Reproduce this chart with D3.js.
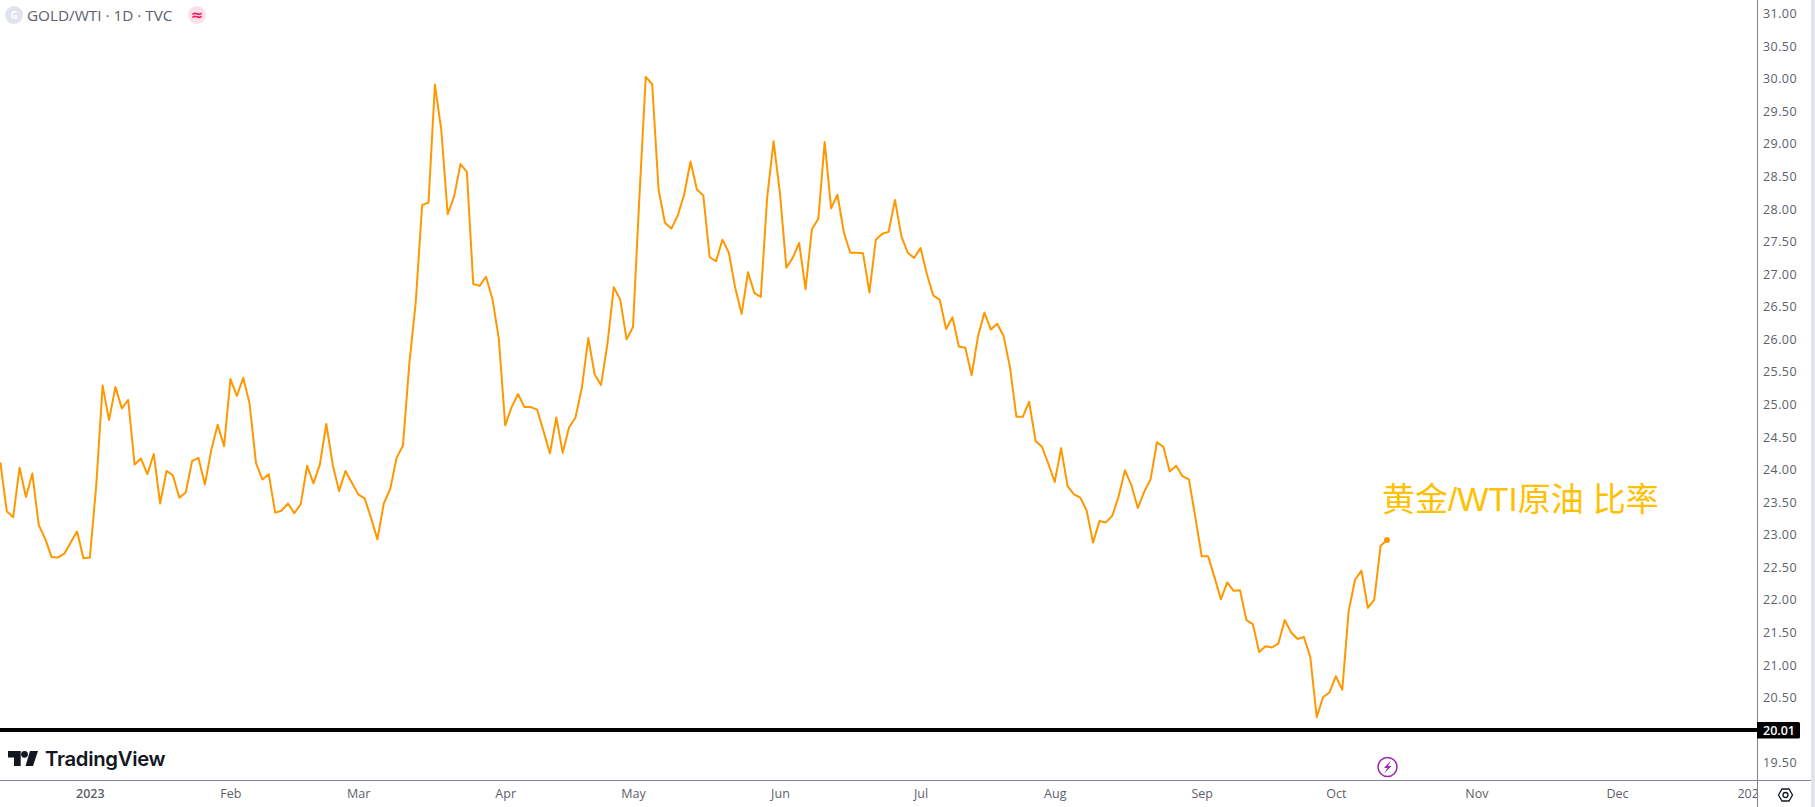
<!DOCTYPE html>
<html><head><meta charset="utf-8">
<script src="https://cdn.jsdelivr.net/npm/d3@7/dist/d3.min.js"></script>
<style>html,body{margin:0;padding:0;background:#fff;overflow:hidden}svg{display:block}
text{font-family:"Open Sans","Noto Sans",sans-serif}</style></head><body>
<svg id="c" width="1815" height="807"></svg>
<script>
const ratio = [24.11,23.36,23.27,24.03,23.58,23.94,23.15,22.94,22.66,22.65,22.71,22.88,23.05,22.64,22.65,23.76,25.29,24.76,25.27,24.94,
25.07,24.08,24.17,23.93,24.24,23.48,23.98,23.91,23.57,23.65,24.13,24.18,23.77,24.30,24.69,24.36,25.39,25.13,25.41,25.01,
24.10,23.85,23.93,23.34,23.37,23.48,23.33,23.47,24.06,23.79,24.08,24.70,24.08,23.67,23.98,23.80,23.62,23.56,23.26,22.93,
23.48,23.70,24.18,24.37,25.63,26.57,28.06,28.10,29.91,29.21,27.92,28.19,28.69,28.57,26.85,26.82,26.96,26.62,26.01,24.68,
24.96,25.16,24.96,24.96,24.92,24.59,24.25,24.80,24.26,24.65,24.80,25.26,26.02,25.46,25.30,25.93,26.80,26.61,26.00,26.19,
28.18,30.03,29.92,28.30,27.79,27.70,27.90,28.22,28.73,28.30,28.21,27.26,27.20,27.53,27.33,26.79,26.39,27.03,26.71,26.65,
28.18,29.04,28.24,27.10,27.25,27.48,26.77,27.69,27.85,29.03,28.01,28.22,27.64,27.33,27.33,27.32,26.72,27.53,27.62,27.65,
28.14,27.58,27.33,27.25,27.40,27.00,26.67,26.61,26.16,26.34,25.89,25.87,25.45,26.05,26.41,26.15,26.24,26.05,25.57,24.81,
24.81,25.04,24.44,24.35,24.09,23.81,24.33,23.75,23.62,23.57,23.37,22.88,23.21,23.19,23.29,23.59,23.99,23.76,23.41,23.66,
23.85,24.42,24.35,23.97,24.06,23.90,23.85,23.27,22.67,22.67,22.35,22.01,22.27,22.14,22.15,21.69,21.63,21.20,21.29,21.27,
21.33,21.69,21.50,21.40,21.43,21.12,20.20,20.51,20.58,20.83,20.62,21.83,22.31,22.45,21.88,22.00,22.83,22.92];
const monthLabels = ["2023","Feb","Mar","Apr","May","Jun","Jul","Aug","Sep","Oct","Nov","Dec","2024"];
const monthBars = [14,36,56,79,99,122,144,165,188,209,231,253,274];
const priceTicks = d3.range(19.5,31.01,0.5);
const lastPrice = 20.01;
const title = "GOLD/WTI · 1D · TVC";
const annotation = "黄金/WTI原油 比率";

const W=1815,H=807,paneR=1757,paneB=780.5,stripX=1811;
const svg=d3.select("#c");
const x=d3.scaleLinear().domain([0,217]).range([0.4,1387]);
const y=d3.scaleLinear().domain([31,19.5]).range([13.6,762.8]);
const tickFill="#5d606b";

svg.append("defs").append("clipPath").attr("id","pane").append("rect")
  .attr("x",0).attr("y",0).attr("width",paneR).attr("height",H);

const xg=svg.append("g").attr("clip-path","url(#pane)").append("g")
  .attr("transform",`translate(0,${paneB})`)
  .call(d3.axisBottom(x).tickValues(monthBars).tickSize(0).tickPadding(0)
    .tickFormat((d,i)=>monthLabels[i]));
xg.select(".domain").remove();
xg.selectAll("text").attr("y",9).attr("dy","0.71em").attr("fill",tickFill)
  .attr("font-size",12.5).attr("font-weight",d=>(d===14?600:400));

const yg=svg.append("g").attr("transform",`translate(${paneR},0)`)
  .call(d3.axisRight(y).tickValues(priceTicks).tickSize(0).tickPadding(0).tickFormat(d3.format(".2f")));
yg.select(".domain").remove();
yg.selectAll("text").attr("x",23).attr("text-anchor","middle").attr("fill",tickFill)
  .attr("font-size",12.5).attr("letter-spacing","0.4");

svg.append("line").attr("x1",0).attr("x2",stripX).attr("y1",paneB).attr("y2",paneB).attr("stroke","#83838f").attr("stroke-width",1);
svg.append("line").attr("x1",paneR+.5).attr("x2",paneR+.5).attr("y1",0).attr("y2",H).attr("stroke","#83838f").attr("stroke-width",1);
svg.append("rect").attr("x",stripX).attr("y",0).attr("width",W-stripX).attr("height",H).attr("fill","#e0e3eb");

svg.append("line").attr("x1",0).attr("x2",paneR).attr("y1",730).attr("y2",730).attr("stroke","#000").attr("stroke-width",4);
svg.append("path").attr("fill","#000")
  .attr("d",`M${paneR} 722H${paneR+41.5}q1.5 0 1.5 1.5V737q0 1.5 -1.5 1.5H${paneR}Z`);
svg.append("text").attr("x",paneR+22).attr("y",730.2).attr("dy","0.35em").attr("text-anchor","middle")
  .attr("fill","#fff").attr("font-size",12.5).attr("font-weight",600).text(lastPrice.toFixed(2));

const line=d3.line().x((d,i)=>x(i)).y(d=>y(d)).curve(d3.curveLinear);
svg.append("path").datum(ratio).attr("d",line).attr("fill","none").attr("stroke","#ff9800").attr("stroke-width",2).attr("stroke-linejoin","round");
svg.append("circle").attr("cx",x(ratio.length-1)).attr("cy",y(ratio[ratio.length-1])).attr("r",3).attr("fill","#ff9800");

svg.append("text").attr("x",1382).attr("y",511).attr("fill","#ffc000")
  .style("font-family",'"Liberation Sans","Noto Sans CJK SC",sans-serif').attr("font-size",33).text(annotation);

svg.append("circle").attr("cx",14).attr("cy",15).attr("r",9).attr("fill","#e0e3eb");
svg.append("text").attr("x",14).attr("y",15).attr("dy","0.36em").attr("text-anchor","middle").attr("fill","#fff").attr("font-size",10).attr("font-weight",700).text("G");
svg.append("text").attr("x",27).attr("y",15).attr("dy","0.36em").attr("fill","#5d606b").attr("font-size",15.3).text(title);
svg.append("circle").attr("cx",197).attr("cy",15).attr("r",9).attr("fill","#fce0e8");
svg.append("text").attr("x",197).attr("y",15).attr("dy","0.33em").attr("text-anchor","middle").attr("fill","#e91e63").attr("font-size",15).attr("font-weight",700).style("font-family","DejaVu Sans").text("≈");

const logo=svg.append("g").attr("fill","#131722");
logo.append("path").attr("d","M8 751H20.7V766H14V757.5H8Z");
logo.append("circle").attr("cx",24.5).attr("cy",754.3).attr("r",3.4);
logo.append("path").attr("d","M30 751H38L33 766H25.5Z");
logo.append("text").attr("x",45).attr("y",766).attr("font-size",20.3).attr("font-weight",600)
  .style("font-family","Inter,sans-serif").attr("letter-spacing","-0.3").text("TradingView");

svg.append("circle").attr("cx",1387.5).attr("cy",767).attr("r",9.5).attr("fill","#fff").attr("stroke","#9c27b0").attr("stroke-width",1.5);
svg.append("path").attr("d","M1391 760.5L1384 768H1387.5L1384 773.5L1391.5 766H1388Z").attr("fill","#9c27b0");

svg.append("path").attr("d","M1778.5 795L1782 789H1789L1792.5 795L1789 801H1782Z").attr("fill","none").attr("stroke","#131722").attr("stroke-width",1.3);
svg.append("circle").attr("cx",1785.5).attr("cy",795).attr("r",2.5).attr("fill","none").attr("stroke","#131722").attr("stroke-width",1.3);
</script></body></html>
